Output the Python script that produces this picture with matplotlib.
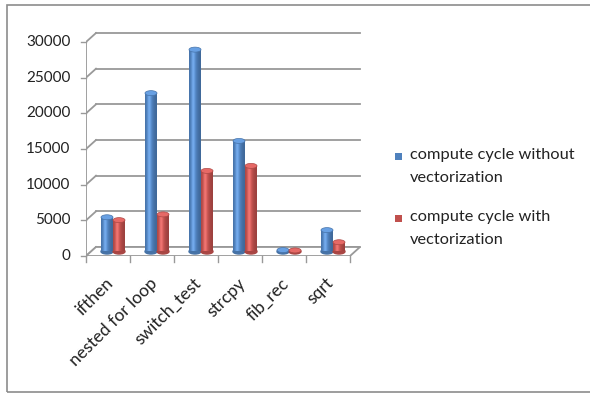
import numpy as np
import matplotlib
matplotlib.use("Agg")
from matplotlib import pyplot as plt
from matplotlib.patches import Rectangle, Ellipse, Polygon
import matplotlib.colors as mcolors

categories = ['ifthen', 'nested for loop', 'switch_test', 'strcpy', 'fib_rec', 'sqrt']
without_vec = [4800, 22200, 28300, 15500, 200, 3000]
with_vec = [4400, 5200, 11300, 12000, 150, 1300]
series_names = ['compute cycle without\nvectorization', 'compute cycle with\nvectorization']
series_colors = ['#4F81BD', '#C0504D']
yticks = [0, 5000, 10000, 15000, 20000, 25000, 30000]

plt.rcParams['font.family'] = ['Lato', 'DejaVu Sans']

W, H = 590, 394
fig = plt.figure(figsize=(W / 100, H / 100), dpi=100)

# pixel geometry of the 3d box
px_cat = 44.0
px_unit = 214.0 / 30000
xmax, ymax = 6.4, 32000
ax = fig.add_axes([86 / W, 138 / H, xmax * px_cat / W, ymax * px_unit / H])
ax.set_xlim(0, xmax)
ax.set_ylim(0, ymax)
ax.axis('off')

dx = 10 / px_cat
dy = 9 / px_unit
n = len(categories)
gcol = '#999999'

# back wall + side wall grid
for v in yticks:
    ax.plot([dx, n + dx], [v + dy, v + dy], color=gcol, lw=1.3, zorder=1)
    ax.plot([0, dx], [v, v + dy], color=gcol, lw=1.3, zorder=1)
    ax.plot([-0.12, 0], [v, v], color=gcol, lw=1.0, zorder=1, clip_on=False)
    ax.text(-0.35, v, str(v), ha='right', va='center', fontsize=11, color='#222222')
ax.plot([0, 0], [0, yticks[-1]], color=gcol, lw=1.3, zorder=1)

# floor
floor = Polygon([[0, 0], [n, 0], [n + dx, dy], [dx, dy]], closed=True,
                facecolor='white', edgecolor=gcol, lw=1.3, zorder=1)
ax.add_patch(floor)
for i in range(n + 1):
    ax.plot([i, i], [0, -6 / px_unit], color=gcol, lw=1.0, zorder=1, clip_on=False)

for i, c in enumerate(categories):
    ax.text(i + 0.5 - 3 / px_cat, -19 / px_unit, c, rotation=45, ha='right', va='top',
            rotation_mode='anchor', fontsize=12.5, color='#222222')

# cylinders
bw = 12 / px_cat
ell_h = 5 / px_unit
t = np.linspace(0, 1, 64)
prof = 0.8 + 0.3 * np.exp(-((t - 0.38) / 0.34) ** 2)


def shaded(color):
    rgb = np.array(mcolors.to_rgb(color))
    img = np.clip(rgb[None, :] * prof[:, None], 0, 1)
    hi = np.exp(-((t - 0.35) / 0.14) ** 2)[:, None] * 0.12
    img = np.clip(img + hi, 0, 1)
    return img[None, :, :]


for s, (vals, col) in enumerate(zip([without_vec, with_vec], series_colors)):
    img = shaded(col)
    rgb = np.array(mcolors.to_rgb(col))
    for i, v in enumerate(vals):
        x0 = i + 0.5 + dx / 2 - bw + s * bw
        base = dy / 2
        e = Ellipse((x0 + bw / 2, base), bw, ell_h, color=rgb * 0.88, zorder=3)
        ax.add_patch(e)
        r = Rectangle((x0, base), bw, v, facecolor='none', edgecolor='none', zorder=4)
        ax.add_patch(r)
        im = ax.imshow(img, extent=[x0, x0 + bw, base, base + v], aspect='auto',
                       interpolation='bilinear', zorder=4)
        im.set_clip_path(r)
        top = np.clip(rgb * 1.12 + 0.06, 0, 1)
        et = Ellipse((x0 + bw / 2, base + v), bw, ell_h, facecolor=top,
                     edgecolor=rgb * 0.9, lw=0.5, zorder=5)
        ax.add_patch(et)

ax.set_xlim(0, xmax)
ax.set_ylim(0, ymax)

# legend
leg_y = [157, 219]
for name, col, yy in zip(series_names, series_colors, leg_y):
    fig.patches.append(Rectangle((395 / W, 1 - (yy + 3) / H), 7 / W, 7 / H,
                                 facecolor=col, edgecolor='none', transform=fig.transFigure))
    fig.text(410 / W, 1 - (yy - 9) / H, name, ha='left', va='top', fontsize=11.8,
             color='#222222', linespacing=1.85)

# outer frame
fig.patches.append(Rectangle((7 / W, 1 - 392 / H), 1.0, (392 - 5) / H, facecolor='none',
                             edgecolor='#8C8C8C', lw=1.2, transform=fig.transFigure))

fig.savefig('out.png', dpi=100)
